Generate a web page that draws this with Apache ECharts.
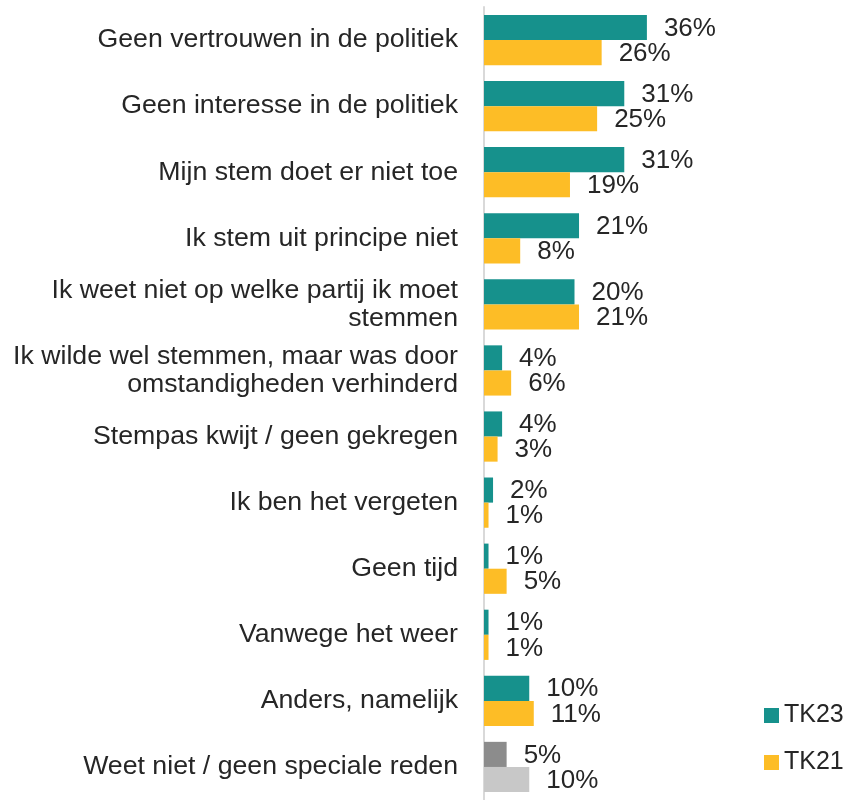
<!DOCTYPE html>
<html>
<head>
<meta charset="utf-8">
<script src="https://cdn.jsdelivr.net/npm/echarts@6/dist/echarts.min.js"></script>
<style>
  html, body { margin: 0; padding: 0; background: #fff; }
  #chart { width: 845px; height: 800px; }
</style>
</head>
<body>
<div id="chart"></div>
<script>
// categorieën, van boven naar beneden
var categories = [
    'Geen vertrouwen in de politiek',
    'Geen interesse in de politiek',
    'Mijn stem doet er niet toe',
    'Ik stem uit principe niet',
    'Ik weet niet op welke partij ik moet\nstemmen',
    'Ik wilde wel stemmen, maar was door\nomstandigheden verhinderd',
    'Stempas kwijt / geen gekregen',
    'Ik ben het vergeten',
    'Geen tijd',
    'Vanwege het weer',
    'Anders, namelijk',
    'Weet niet / geen speciale reden'
];

var tk23 = [36, 31, 31, 21, 20, 4, 4, 2, 1, 1, 10, 5];
var tk21 = [26, 25, 19, 8, 21, 6, 3, 1, 5, 1, 11, 10];

var TEXT = '#262626';
var TEAL = '#16918C';
var YELLOW = '#FDBD26';
var GREY_DARK = '#8C8C8C';
var GREY_LIGHT = '#C8C8C8';
var FONT = 'Liberation Sans, Arial, sans-serif';

// laatste categorie in grijs
function withGrey(values, grey) {
    return values.map(function (v, i) {
        if (i === values.length - 1) {
            return { value: v, itemStyle: { color: grey } };
        }
        return v;
    });
}

var labelOpt = {
    show: true,
    position: 'right',
    distance: 17,
    offset: [0, 1],
    fontFamily: FONT,
    fontSize: 26,
    color: TEXT,
    formatter: '{c}%'
};

var chart = echarts.init(document.getElementById('chart'));
chart.setOption({
    animation: false,
    backgroundColor: '#fff',
    textStyle: { fontFamily: FONT },
    legend: {
        orient: 'vertical',
        left: 759,
        top: 698,
        icon: 'rect',
        itemWidth: 15,
        itemHeight: 15,
        itemGap: 22,
        itemStyle: { borderWidth: 0 },
        textStyle: { fontSize: 25, color: TEXT, fontFamily: FONT },
        data: ['TK23', 'TK21']
    },
    grid: {
        left: 484,
        top: 7,
        width: 181,
        height: 804
    },
    xAxis: {
        type: 'value',
        min: 0,
        max: 40,
        show: false
    },
    yAxis: {
        type: 'category',
        inverse: true,
        data: categories,
        axisLine: { show: true, lineStyle: { color: '#D9D9D9', width: 2 } },
        axisTick: { show: false },
        axisLabel: {
            margin: 26,
            fontSize: 26.7,
            lineHeight: 28,
            fontFamily: FONT,
            color: TEXT,
            align: 'right'
        }
    },
    series: [{
        name: 'TK23',
        type: 'bar',
        barGap: 0,
        barCategoryGap: '24%',
        itemStyle: { color: TEAL },
        label: labelOpt,
        data: withGrey(tk23, GREY_DARK)
    }, {
        name: 'TK21',
        type: 'bar',
        itemStyle: { color: YELLOW },
        label: labelOpt,
        data: withGrey(tk21, GREY_LIGHT)
    }]
});
</script>
</body>
</html>
